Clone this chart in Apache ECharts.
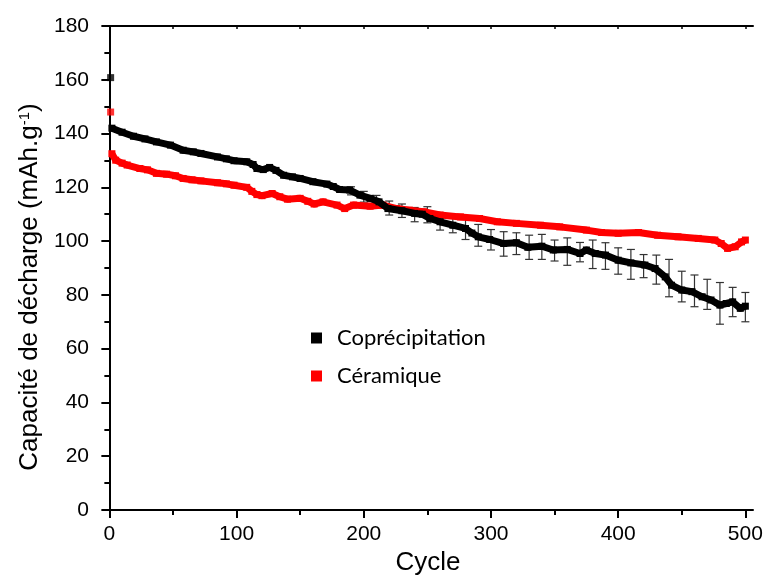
<!DOCTYPE html>
<html><head><meta charset="utf-8">
<script src="https://cdn.jsdelivr.net/npm/echarts@6/dist/echarts.min.js"></script>
<style>html,body{margin:0;padding:0;background:#fff}#c{width:766px;height:575px}</style>
</head><body><div id="c"></div>
<script>
const seriesNames = ['Coprécipitation', 'Céramique'];

const firstCycle = [1];
const coprecFirst = [160.8];
const ceramFirst = [148.0];

const coprecCycles = [2,10,19,28,37,48,58,66,72,85,92,98,108,113,116,121,126,131,137,144,150,160,171,176,181,189,197,205,212,219,230,240,246,252,260,270,280,285,290,299,310,320,329,340,349,360,370,375,382,390,400,410,421,429,437,442,450,458,466,473,480,485,490,496,500];
const coprecValues = [142.0,140.5,139.0,138.0,136.9,135.7,133.8,133.2,132.6,131.3,130.6,129.9,129.5,128.5,127.0,126.6,127.4,126.3,124.5,123.9,123.3,122.1,121.2,120.3,119.2,119.0,117.1,115.9,114.6,112.1,111.3,110.3,110.0,108.4,107.2,105.9,104.7,103.0,101.6,100.6,99.1,99.4,97.7,98.1,96.7,96.9,95.4,96.7,95.4,94.8,92.9,91.9,91.1,89.8,86.7,83.6,81.8,81.2,79.3,78.1,76.2,76.8,77.4,75.0,75.8];

const ceramCycles = [2,5,10,14,24,30,37,45,52,58,65,72,85,92,98,108,112,116,120,128,134,140,150,156,161,168,179,185,192,205,215,226,236,247,260,276,291,305,320,339,354,375,387,400,416,431,447,463,476,481,486,492,497,500];
const ceramValues = [132.5,130.1,129.0,128.3,127.0,126.5,125.2,124.9,124.3,123.3,122.8,122.4,121.7,121.3,120.8,120.0,118.5,117.3,116.9,117.7,116.5,115.6,115.9,114.8,113.8,114.6,113.4,112.1,113.4,113.0,113.4,112.1,111.5,110.9,109.7,109.0,108.4,107.2,106.6,105.9,105.3,104.1,103.2,102.9,103.2,102.2,101.6,101.0,100.4,99.1,97.3,97.9,99.7,100.4];

const errCycles = [190,200,210,220,230,240,250,260,270,280,290,300,310,320,330,340,350,360,370,380,390,400,410,420,430,440,450,460,470,480,490,500];
const errHigh = [120.2,118.5,117.0,114.9,113.8,112.5,112.8,110.2,109.1,108.6,106.2,104.3,103.5,103.1,102.2,102.5,100.4,101.2,99.5,100.4,99.4,97.5,96.9,95.0,94.8,93.2,88.8,87.4,85.8,84.6,82.8,80.9];
const errLow = [117.2,114.5,112.4,109.7,108.8,107.2,106.8,104.1,103.1,100.6,98.1,96.7,94.4,95.0,93.2,93.2,92.6,91.0,92.3,89.8,89.5,87.7,85.8,86.4,84.0,79.3,77.4,75.6,74.6,69.1,71.9,70.0];

const xMajorTicks = [0,100,200,300,400,500];
const xMinorTicks = [50,150,250,350,450];
const xTopTicks = [0,50,100,150,200,250,300,350,400,450,500];

const pair = (xs, ys) => xs.map((x, i) => [x, ys[i]]);
const F = '"Liberation Sans", Arial, sans-serif';
const xMin = -5, xMax = 506;

const chart = echarts.init(document.getElementById('c'), null, {renderer: 'canvas'});
chart.setOption({
  animation: false,
  backgroundColor: '#fff',
  grid: {left: 103, right: 13, top: 26, bottom: 65, containLabel: false, outerBoundsMode: 'none'},
  legend: {
    orient: 'vertical', left: 306, top: 322,
    itemWidth: 11, itemHeight: 11, itemGap: 16,
    data: seriesNames.map(n => ({name: n, icon: 'rect'})),
    textStyle: {fontFamily: 'Lato', fontSize: 22, color: '#000', lineHeight: 20, padding: [0, 0, 0, 10]}
  },
  xAxis: [
    {type: 'value', position: 'bottom', min: xMin, max: xMax,
     axisLine: {show: true, lineStyle: {color: '#000', width: 2}},
     axisTick: {show: true, length: 8, lineStyle: {color: '#000', width: 2}, customValues: xMajorTicks},
     axisLabel: {show: true, customValues: xMajorTicks, margin: 14, color: '#000', fontFamily: F, fontSize: 21},
     splitLine: {show: false},
     name: 'Cycle', nameLocation: 'middle', nameGap: 36,
     nameTextStyle: {fontFamily: F, fontSize: 26, color: '#000'}},
    {type: 'value', position: 'bottom', min: xMin, max: xMax,
     axisLine: {show: false},
     axisTick: {show: true, length: 5, lineStyle: {color: '#000', width: 2}, customValues: xMinorTicks},
     axisLabel: {show: false}, splitLine: {show: false}},
    {type: 'value', position: 'top', min: xMin, max: xMax,
     axisLine: {show: true, lineStyle: {color: '#000', width: 2}},
     axisTick: {show: true, inside: true, length: 3, lineStyle: {color: '#000', width: 1.5}, customValues: xTopTicks},
     axisLabel: {show: false}, splitLine: {show: false}}
  ],
  yAxis: [
    {type: 'value', position: 'left', min: 0, max: 180, interval: 20,
     axisLine: {show: true, lineStyle: {color: '#000', width: 2}},
     axisTick: {show: true, length: 8, lineStyle: {color: '#000', width: 2}},
     minorTick: {show: true, splitNumber: 2, length: 5, lineStyle: {color: '#000', width: 2}},
     axisLabel: {margin: 14, color: '#000', fontFamily: F, fontSize: 21},
     splitLine: {show: false},
     name: 'Capacité de décharge (mAh.g{sup|-1})', nameLocation: 'middle', nameGap: 57, nameRotate: 90,
     nameTextStyle: {fontFamily: F, fontSize: 26, color: '#000', padding: [0, 38, 0, 0],
       rich: {sup: {fontFamily: F, fontSize: 15, color: '#000', verticalAlign: 'top'}}}},
    {type: 'value', position: 'right', min: 0, max: 180, interval: 10,
     axisLine: {show: true, lineStyle: {color: '#000', width: 2}},
     axisTick: {show: true, inside: true, length: 3, lineStyle: {color: '#000', width: 1.5}},
     axisLabel: {show: false}, splitLine: {show: false}}
  ],
  series: [
    {name: seriesNames[0], type: 'line', xAxisIndex: 0, yAxisIndex: 0,
     data: pair(coprecCycles, coprecValues),
     symbol: 'rect', symbolSize: 7, showAllSymbol: true,
     itemStyle: {color: '#000'}, lineStyle: {color: '#000', width: 7, join: 'round'}, z: 4},
    {name: seriesNames[1], type: 'line', xAxisIndex: 0, yAxisIndex: 0,
     data: pair(ceramCycles, ceramValues),
     symbol: 'rect', symbolSize: 7, showAllSymbol: true,
     itemStyle: {color: '#ff0000'}, lineStyle: {color: '#ff0000', width: 7, join: 'round'}, z: 3},
    {name: seriesNames[0], type: 'scatter', data: pair(firstCycle, coprecFirst),
     symbol: 'rect', symbolSize: 7, itemStyle: {color: '#000'}, z: 4},
    {name: seriesNames[1], type: 'scatter', data: pair(firstCycle, ceramFirst),
     symbol: 'rect', symbolSize: 7, itemStyle: {color: '#ff0000'}, z: 3},
    {name: 'err', type: 'custom', xAxisIndex: 0, yAxisIndex: 0,
     data: errCycles.map((c, i) => [c, errHigh[i], errLow[i]]),
     encode: {x: 0, y: [1, 2]}, z: 2,
     renderItem: (params, api) => {
       const x = api.value(0);
       const a = api.coord([x, api.value(1)]);
       const b = api.coord([x, api.value(2)]);
       const w = 4;
       const st = {stroke: '#333', lineWidth: 1.2};
       return {type: 'group', children: [
         {type: 'line', shape: {x1: a[0], y1: a[1], x2: b[0], y2: b[1]}, style: st},
         {type: 'line', shape: {x1: a[0] - w, y1: a[1], x2: a[0] + w, y2: a[1]}, style: st},
         {type: 'line', shape: {x1: b[0] - w, y1: b[1], x2: b[0] + w, y2: b[1]}, style: st}
       ]};
     }}
  ]
});
</script></body></html>
